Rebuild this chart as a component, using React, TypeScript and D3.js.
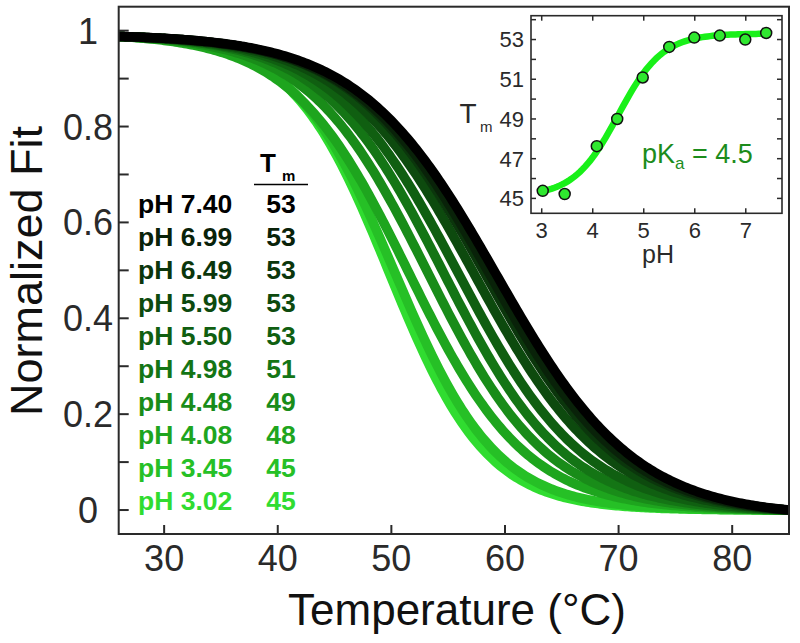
import React from 'react';
import * as d3 from 'd3';

// ---- data ----
const PH_LABELS = ['7.40', '6.99', '6.49', '5.99', '5.50', '4.98', '4.48', '4.08', '3.45', '3.02'];
const TM_LABELS = ['53', '53', '53', '53', '53', '51', '49', '48', '45', '45'];
// sigmoid fit parameters (midpoint °C, width °C)
const CURVE_MID = [59.3, 58.7, 58.3, 57.3, 55.9, 54.6, 53.2, 51.5, 50.3, 49.8];
const CURVE_WIDTH = [6.1, 6.0, 5.9, 5.8, 5.6, 5.4, 5.3, 5.2, 4.5, 4.3];
const X_TICKS = [30, 40, 50, 60, 70, 80];
const Y_TICKS = [0, 0.1, 0.2, 0.3, 0.4, 0.5, 0.6, 0.7, 0.8, 0.9, 1];
const Y_TICK_LABELS = ['0', '', '0.2', '', '0.4', '', '0.6', '', '0.8', '', '1'];

const INSET_PH = [3.02, 3.45, 4.08, 4.48, 4.98, 5.5, 5.99, 6.49, 6.99, 7.4];
const INSET_TM = [45.38, 45.22, 47.63, 49.0, 51.09, 52.63, 53.1, 53.2, 53.0, 53.33];
const INSET_X_TICKS = [3, 4, 5, 6, 7];
const INSET_Y_TICKS = [45, 46, 47, 48, 49, 50, 51, 52, 53, 54];
const INSET_Y_LABELS = [45, 47, 49, 51, 53];
const PKA = 4.5;
const TM_LOW = 45.1;
const TM_HIGH = 53.3;

// ---- styles ----
const COLORS = ['#000000', '#092209', '#0b360c', '#0d4a0e', '#105f11', '#147515', '#198c19', '#1ea51e', '#26c026', '#30dc30'];
const FONT = "'Liberation Sans', Arial, Helvetica, sans-serif";
const AXIS = '#2a2a2a';

export default function App() {
  const x = d3.scaleLinear().domain([26, 85]).range([118.7, 789]);
  const y = d3.scaleLinear().domain([-0.05, 1.05]).range([534, 6.7]);
  const [x0, x1] = x.range();
  const [yb, yt] = y.range();

  const temps = d3.range(26, 85.001, 0.2);
  const sig = (t: number, m: number, w: number) => 1 / (1 + Math.exp((t - m) / w));
  const line = d3.line<[number, number]>().x(d => x(d[0])).y(d => y(d[1]));

  const curves = CURVE_MID.map((m, i) => {
    const w = CURVE_WIDTH[i];
    const hi = sig(26, m, w);
    const lo = sig(85, m, w);
    const pts: [number, number][] = temps.map(t => [t, ((sig(t, m, w) - lo) / (hi - lo)) * 0.988]);
    return line(pts) as string;
  });

  // inset
  const ix = d3.scaleLinear().domain([2.79, 7.71]).range([531, 782]);
  const iy = d3.scaleLinear().domain([44.25, 54.2]).range([213.3, 15.7]);
  const fitPts: [number, number][] = d3.range(3.0, 7.401, 0.05).map(p => [p, TM_LOW + (TM_HIGH - TM_LOW) / (1 + Math.pow(10, PKA - p))]);
  const fitLine = d3.line<[number, number]>().x(d => ix(d[0])).y(d => iy(d[1]))(fitPts) as string;

  const rowY = (i: number) => 212.5 + i * 33.05;

  return (
    <svg width={800} height={643} style={{ position: 'absolute', left: 0, top: 0, background: '#fff' }} fontFamily={FONT}>
      <rect x={0} y={0} width={800} height={643} fill="#fff" />
      <defs>
        <clipPath id="plotclip">
          <rect x={x0} y={yt} width={x1 - x0} height={yb - yt} />
        </clipPath>
      </defs>

      {/* curves: lightest first, black on top */}
      <g clipPath="url(#plotclip)">
        {curves.map((d, i) => i).reverse().map(i => (
          <path key={i} d={curves[i]} fill="none" stroke={COLORS[i]} strokeWidth={9.5} />
        ))}
      </g>

      {/* main frame */}
      <rect x={x0} y={yt} width={x1 - x0} height={yb - yt} fill="none" stroke={AXIS} strokeWidth={2} />
      {Y_TICKS.map((t, i) => (
        <line key={'yt' + i} x1={x0} x2={x0 + 10} y1={y(t)} y2={y(t)} stroke={AXIS} strokeWidth={2} />
      ))}
      {X_TICKS.map((t, i) => (
        <line key={'xt' + i} x1={x(t)} x2={x(t)} y1={yb} y2={yb - 9} stroke={AXIS} strokeWidth={2} />
      ))}
      {Y_TICKS.map((t, i) => Y_TICK_LABELS[i] ? (
        <text key={'yl' + i} x={88} y={y(t)} dy="0.36em" textAnchor="middle" fontSize={36} fill={AXIS}>{Y_TICK_LABELS[i]}</text>
      ) : null)}
      {X_TICKS.map((t, i) => (
        <text key={'xl' + i} x={x(t)} y={571} textAnchor="middle" fontSize={36} fill={AXIS}>{t}</text>
      ))}
      <text x={457} y={625} textAnchor="middle" fontSize={44} fill="#111">Temperature (°C)</text>
      <text transform="translate(42,271) rotate(-90)" textAnchor="middle" fontSize={45} fill="#111">Normalized Fit</text>

      {/* legend table */}
      <text x={268} y={172} textAnchor="middle" fontSize={26} fontWeight="bold" fill="#000">T</text>
      <text x={282} y={181} fontSize={15} fontWeight="bold" fill="#000">m</text>
      <line x1={254} x2={308} y1={184.5} y2={184.5} stroke="#000" strokeWidth={1.5} />
      {PH_LABELS.map((p, i) => (
        <g key={'lg' + i} fill={COLORS[i]} fontWeight="bold" fontSize={26.5}>
          <text x={138} y={rowY(i)}>{'pH ' + p}</text>
          <text x={281} y={rowY(i)} textAnchor="middle">{TM_LABELS[i]}</text>
        </g>
      ))}

      {/* inset */}
      <rect x={531} y={15.7} width={782 - 531} height={213.3 - 15.7} fill="#fff" stroke={AXIS} strokeWidth={1.6} />
      {INSET_Y_TICKS.map(t => (
        <g key={'iyt' + t}>
          <line x1={531} x2={536} y1={iy(t)} y2={iy(t)} stroke={AXIS} strokeWidth={1.5} />
          <line x1={782} x2={777} y1={iy(t)} y2={iy(t)} stroke={AXIS} strokeWidth={1.5} />
        </g>
      ))}
      {INSET_X_TICKS.map(t => (
        <g key={'ixt' + t}>
          <line x1={ix(t)} x2={ix(t)} y1={213.3} y2={208.3} stroke={AXIS} strokeWidth={1.5} />
          <line x1={ix(t)} x2={ix(t)} y1={15.7} y2={20.7} stroke={AXIS} strokeWidth={1.5} />
        </g>
      ))}
      {INSET_Y_LABELS.map(t => (
        <text key={'iyl' + t} x={524} y={iy(t)} dy="0.36em" textAnchor="end" fontSize={22} fill={AXIS}>{t}</text>
      ))}
      {INSET_X_TICKS.map(t => (
        <text key={'ixl' + t} x={ix(t)} y={238} textAnchor="middle" fontSize={22} fill={AXIS}>{t}</text>
      ))}
      <text x={658} y={263} textAnchor="middle" fontSize={25} fill={AXIS}>pH</text>
      <text x={468} y={123} textAnchor="middle" fontSize={28} fill={AXIS}>T</text>
      <text x={480} y={132} fontSize={15} fill={AXIS}>m</text>
      <path d={fitLine} fill="none" stroke="#19f019" strokeWidth={6.5} />
      {INSET_PH.map((p, i) => (
        <circle key={'pt' + i} cx={ix(p)} cy={iy(INSET_TM[i])} r={5.5} fill="#2fe82f" stroke="#111" strokeWidth={1.5} />
      ))}
      <text x={642} y={163} fontSize={27} fill="#1c8c1c">
        pK<tspan fontSize={17} dy={6}>a</tspan><tspan dy={-6}> = 4.5</tspan>
      </text>
    </svg>
  );
}
